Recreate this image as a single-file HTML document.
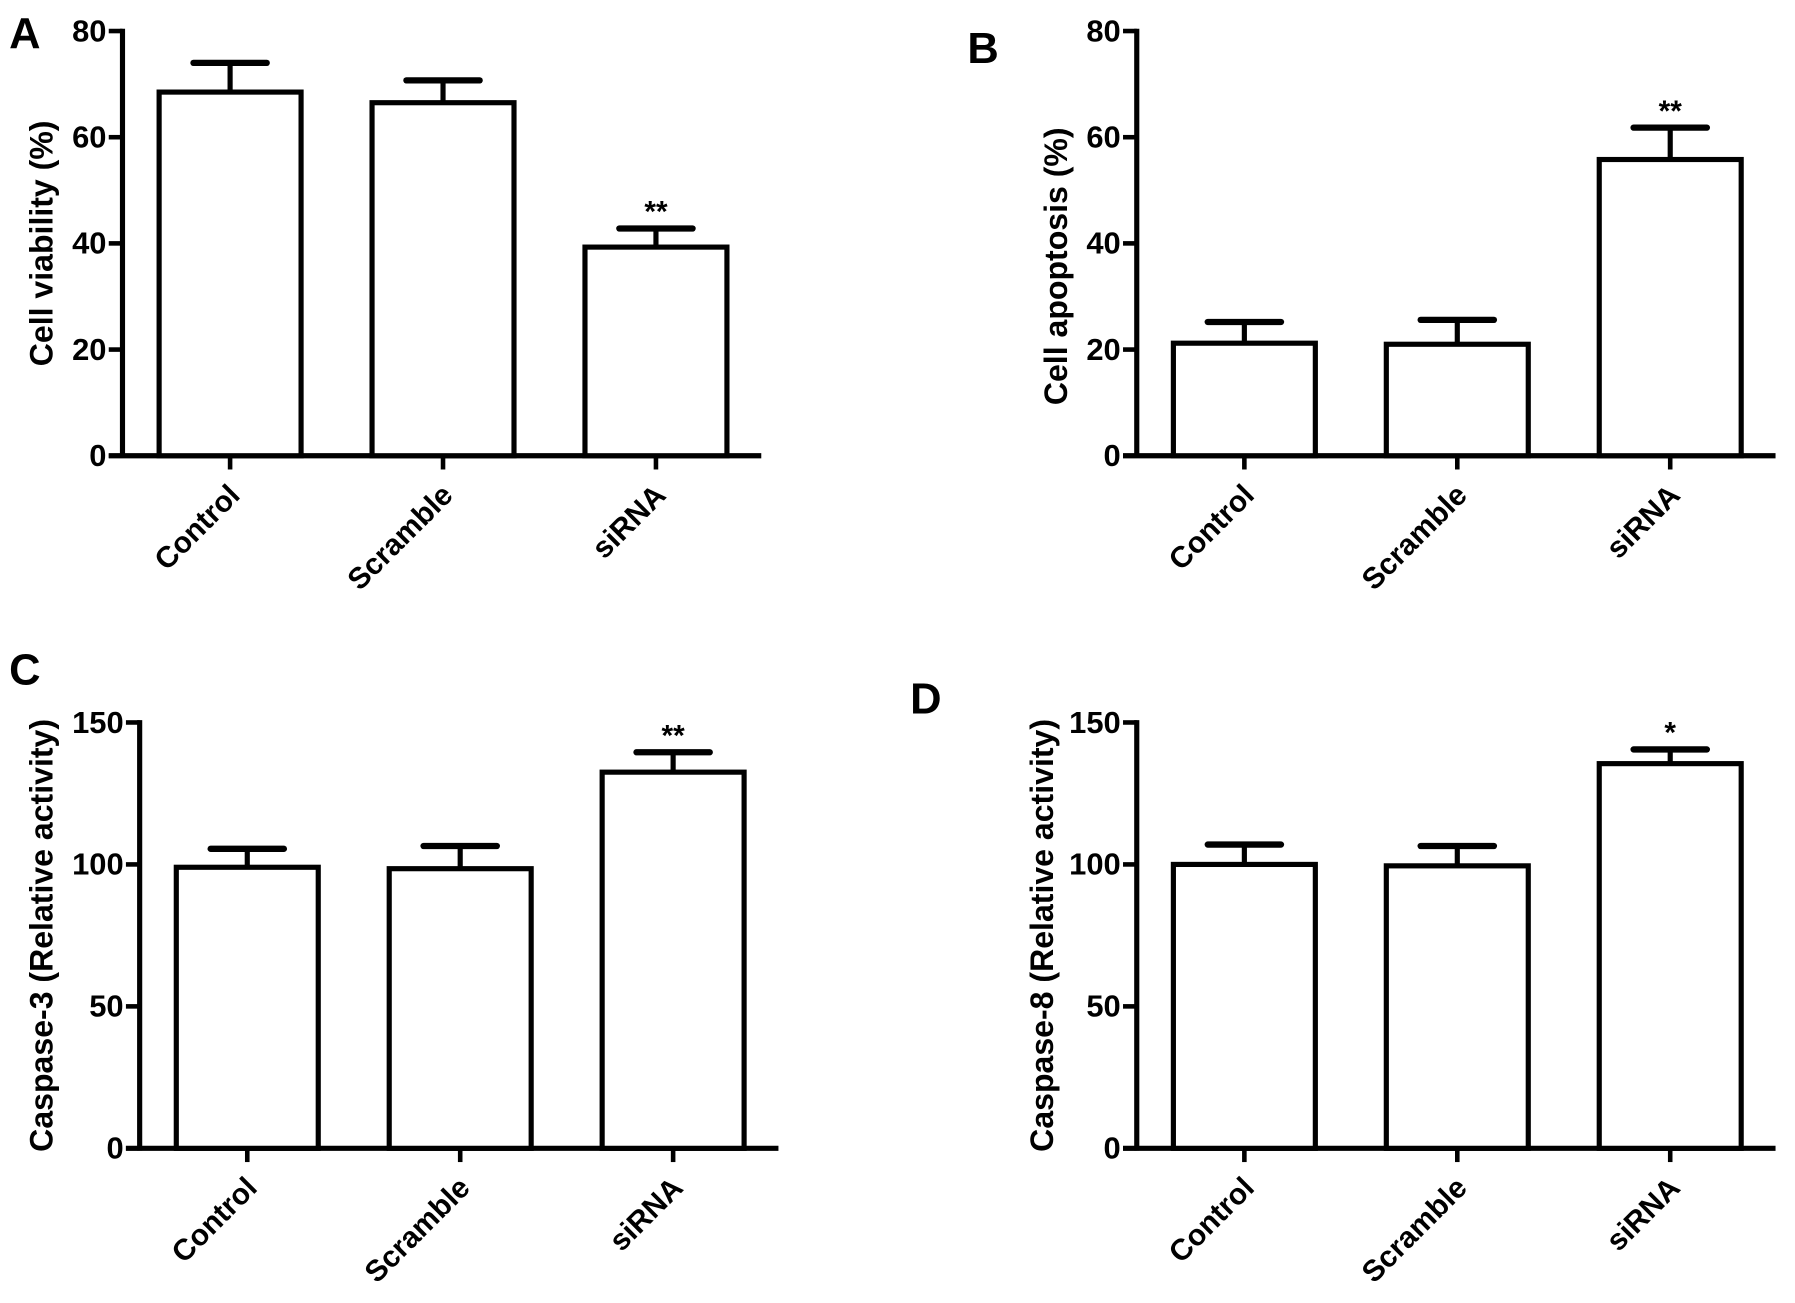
<!DOCTYPE html>
<html><head><meta charset="utf-8"><style>
html,body{margin:0;padding:0;background:#fff}
svg{display:block}
text{font-family:"Liberation Sans Narrow","Liberation Sans",sans-serif;font-weight:bold;fill:#000}
.lt{font-family:"Liberation Sans",sans-serif}
</style></head><body>
<svg id="fig" width="1795" height="1303" viewBox="0 0 1568 1138" xmlns="http://www.w3.org/2000/svg"></svg>
<script>
const categories = ["Control","Scramble","siRNA"];
const valuesA = [68.5, 66.5, 39.3];
const errorsA = [5.5, 4.2, 3.5];
const valuesB = [21.2, 21.0, 55.8];
const errorsB = [4.0, 4.6, 6.0];
const valuesC = [99, 98.5, 132.5];
const errorsC = [6.5, 8.0, 7.0];
const valuesD = [100, 99.5, 135.5];
const errorsD = [7.0, 7.0, 5.0];
const ticksA = [0,20,40,60,80];
const ticksC = [0,50,100,150];
const starsA = ["","","**"];
const starsB = ["","","**"];
const starsC = ["","","**"];
const starsD = ["","","*"];

const svg = document.getElementById('fig');
const NS = 'http://www.w3.org/2000/svg';
function mk(tag, attrs, parent){
  const e = document.createElementNS(NS, tag);
  for (const k in attrs) e.setAttribute(k, attrs[k]);
  (parent||svg).appendChild(e);
  return e;
}
function panel(cfg){
  const g = mk('g', {});
  
  
  const y = v => cfg.y0 - (v - 0) / cfg.max * (cfg.y0 - cfg.yTop);
  const bandW = (cfg.xEnd - cfg.x0) / categories.length;
  const xc = i => cfg.x0 + bandW * (i + 0.5) + cfg.shift;
  const bw = 124;
  const ya = mk('line', {x1:cfg.x0, y1:y(cfg.max)-2, x2:cfg.x0, y2:cfg.y0+2, stroke:'#000','stroke-width':4.5}, g);
  
  
  const xa = mk('line', {x1:cfg.x0-12, y1:cfg.y0, x2:cfg.xEnd, y2:cfg.y0, stroke:'#000','stroke-width':4.5}, g);
  
  
  cfg.ticks.forEach(t => {
    const tl = mk('line', {x1:cfg.x0-12, y1:y(t), x2:cfg.x0, y2:y(t), stroke:'#000','stroke-width':4}, g);
    
    
    const tx = mk('text', {x:cfg.x0-14, y:y(t)+9, 'text-anchor':'end','font-size':27}, g);
    tx.textContent = t;
    
    
  });
  categories.forEach((c, i) => {
    const v = cfg.values[i], er = cfg.errors[i], cx = xc(i);
    const eb = mk('line', {x1:cx, y1:y(v), x2:cx, y2:y(v+er), stroke:'#000','stroke-width':4.5}, g);
    
    
    const cap = mk('line', {x1:cx-32, y1:y(v+er), x2:cx+32, y2:y(v+er), stroke:'#000','stroke-width':5.5,'stroke-linecap':'round'}, g);
    
    
    const r = mk('rect', {x:cx-bw/2, y:y(v), width:bw, height:cfg.y0-y(v), fill:'#fff', stroke:'#000','stroke-width':4.5}, g);
    
    
    const tk = mk('line', {x1:cx, y1:cfg.y0, x2:cx, y2:cfg.y0+12, stroke:'#000','stroke-width':4}, g);
    
    
    const lx = cx + 10, ly = cfg.y0 + 36;
    const lb = mk('text', {x:lx, y:ly, 'text-anchor':'end','font-size':26,'class':'lt', transform:'rotate(-45 '+lx+' '+ly+')'}, g);
    lb.textContent = c;
    
    
    if (cfg.stars[i]) {
      const st = mk('text', {x:cx, y:y(v+er)-6, 'text-anchor':'middle','font-size':26,'class':'lt'}, g);
      st.textContent = cfg.stars[i];
      
      
    }
  });
  const tyx = cfg.titleX, tyy = (cfg.y0 + y(cfg.max)) / 2 + cfg.tdy;
  const tt = mk('text', {x:tyx, y:tyy, 'text-anchor':'middle','font-size':28,'class':'lt', transform:'rotate(-90 '+tyx+' '+tyy+')', 'xml:space':'preserve'}, g);
  tt.textContent = cfg.title;
  
  
  const pl = mk('text', {x:cfg.lx, y:cfg.ly, 'font-size':38,'class':'lt'}, g);
  pl.textContent = cfg.id;
  
  
}
panel({id:'A', x0:107, xEnd:665, y0:398, yTop:27, max:80, ticks:ticksA, values:valuesA, errors:errorsA, stars:starsA, title:'Cell viability (%)', titleX:46, tdy:0, lx:8, ly:42, shift:1});
panel({id:'B', x0:993, xEnd:1551, y0:398, yTop:27, max:80, ticks:ticksA, values:valuesB, errors:errorsB, stars:starsB, title:'Cell apoptosis (%)', titleX:932, tdy:20, lx:845, ly:55, shift:1});
panel({id:'C', x0:122, xEnd:680, y0:1003, yTop:631, max:150, ticks:ticksC, values:valuesC, errors:errorsC, stars:starsC, title:'Caspase-3  (Relative activity)', titleX:46, tdy:0, lx:8, ly:598, shift:1});
panel({id:'D', x0:993, xEnd:1551, y0:1003, yTop:631, max:150, ticks:ticksC, values:valuesD, errors:errorsD, stars:starsD, title:'Caspase-8  (Relative activity)', titleX:920, tdy:0, lx:795, ly:623, shift:1});
</script>
</body></html>
